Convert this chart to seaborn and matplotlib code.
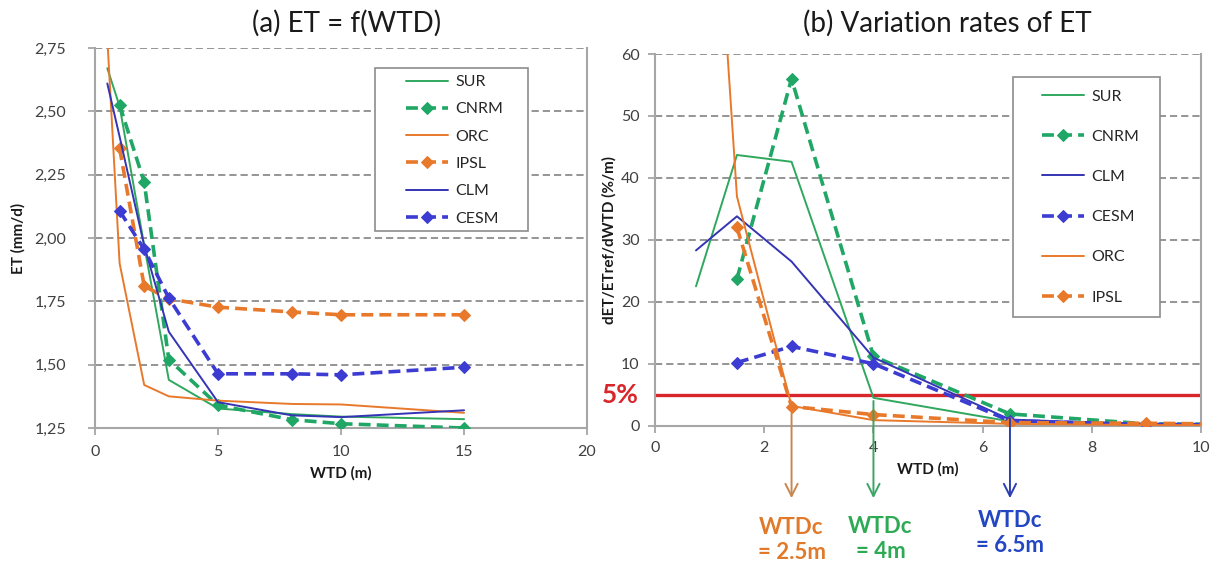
import numpy as np
import pandas as pd
import matplotlib
matplotlib.use("Agg")
import matplotlib.pyplot as plt
from matplotlib.patches import Rectangle
from matplotlib.ticker import FuncFormatter
import seaborn as sns

# ---- panel (a): ET as a function of water table depth ----
wtd_a = [0.5, 1, 2, 3, 5, 8, 10, 15]
et_sur = [2.67, 2.52, 1.97, 1.44, 1.327, 1.305, 1.295, 1.285]
et_cnrm = [np.nan, 2.525, 2.22, 1.52, 1.34, 1.283, 1.267, 1.25]
et_orc = [2.79, 1.90, 1.42, 1.375, 1.358, 1.345, 1.343, 1.31]
et_ipsl = [np.nan, 2.354, 1.81, 1.76, 1.727, 1.708, 1.697, 1.697]
et_clm = [2.61, 2.40, 1.97, 1.63, 1.352, 1.30, 1.293, 1.32]
et_cesm = [np.nan, 2.107, 1.955, 1.763, 1.464, 1.464, 1.46, 1.49]

# ---- panel (b): variation rates of ET ----
wtd_b = [0.75, 1.5, 2.5, 4, 6.5, 9, 12.5]
rate_sur = [22.5, 43.7, 42.6, 4.5, 0.7, 0.2, 0.1]
rate_cnrm = [np.nan, 23.7, 56.0, 11.2, 1.9, 0.3, 0.1]
rate_clm = [28.3, 33.8, 26.5, 11.0, 1.0, 0.2, 0.1]
rate_cesm = [np.nan, 10.2, 12.8, 10.0, 0.8, 0.2, 0.1]
rate_orc = [137.0, 37.0, 3.2, 0.9, 0.3, 0.1, 0.1]
rate_ipsl = [np.nan, 32.0, 3.1, 1.8, 0.5, 0.4, 0.1]

threshold = 5
wtdc_values = [2.5, 4, 6.5]
wtdc_labels = ["WTDc\n= 2.5m", "WTDc\n= 4m", "WTDc\n= 6.5m"]

GREEN = "#2FA85E"
GREEN_D = "#20A766"
ORANGE = "#E8792B"
BLUE = "#3434B4"
BLUE_D = "#3C3CD2"
RED = "#D8262B"
GRID = "#8C8C8C"
SPINE = "#A6A6A6"
TICK = "#404040"

sns.set_theme(style="white")
plt.rcParams["font.family"] = ["Lato", "DejaVu Sans"]

DASH = (0, (3.3, 1.7))
styles = {
    "SUR": dict(color=GREEN, lw=1.4, ls="-", marker=None),
    "CNRM": dict(color=GREEN_D, lw=2.6, ls=DASH, marker="D"),
    "ORC": dict(color=ORANGE, lw=1.4, ls="-", marker=None),
    "IPSL": dict(color=ORANGE, lw=2.6, ls=DASH, marker="D"),
    "CLM": dict(color=BLUE, lw=1.4, ls="-", marker=None),
    "CESM": dict(color=BLUE_D, lw=2.6, ls=DASH, marker="D"),
}

series_a = {"SUR": et_sur, "CNRM": et_cnrm, "ORC": et_orc,
            "IPSL": et_ipsl, "CLM": et_clm, "CESM": et_cesm}
series_b = {"SUR": rate_sur, "CNRM": rate_cnrm, "CLM": rate_clm,
            "CESM": rate_cesm, "ORC": rate_orc, "IPSL": rate_ipsl}

fig = plt.figure(figsize=(12.18, 5.62), dpi=100)
ax1 = fig.add_axes([0.078, 0.2384, 0.404, 0.6762])
ax2 = fig.add_axes([0.5378, 0.2425, 0.4483, 0.6614])


def draw_series(ax, xs, series):
    handles = []
    for name, vals in series.items():
        df = pd.DataFrame({"WTD": xs, "val": vals}).dropna()
        st = styles[name]
        kw = dict(color=st["color"], linewidth=st["lw"], linestyle=st["ls"],
                  label=name, errorbar=None, zorder=3)
        if st["marker"]:
            kw.update(marker=st["marker"], markersize=6.5,
                      markeredgecolor=st["color"], markerfacecolor=st["color"])
        before = len(ax.lines)
        sns.lineplot(data=df, x="WTD", y="val", ax=ax, **kw)
        handles.append(ax.lines[before])
    return handles


def style_axes(ax):
    ax.grid(False)
    ax.yaxis.grid(True, color=GRID, linestyle=(0, (4, 2.2)), linewidth=1.3)
    ax.set_axisbelow(True)
    for side in ["left", "bottom", "right"]:
        ax.spines[side].set_visible(True)
        ax.spines[side].set_color(SPINE)
        ax.spines[side].set_linewidth(1.5)
    ax.spines["top"].set_visible(False)
    ax.tick_params(axis="both", which="major", direction="out", length=5,
                   width=1.3, color=SPINE, labelcolor=TICK, labelsize=11.5,
                   left=True, bottom=True)


def framed_legend(ax, handles, box, anchor, spacing):
    ax.add_patch(Rectangle((box[0], box[1]), box[2], box[3],
                           transform=ax.transAxes, facecolor="white",
                           edgecolor="#8C8C8C", linewidth=1.2, zorder=4,
                           clip_on=False))
    leg = ax.legend(handles=handles, labels=[h.get_label() for h in handles],
                    loc="upper left", bbox_to_anchor=anchor, frameon=False,
                    fontsize=11.5, handlelength=2.65, handletextpad=0.45,
                    borderpad=0, borderaxespad=0, labelspacing=spacing)
    leg.set_zorder(5)
    for t in leg.get_texts():
        t.set_color("#262626")
    return leg


# ---- panel (a) ----
h1 = draw_series(ax1, wtd_a, series_a)
style_axes(ax1)
ax1.set_xlim(0, 20)
ax1.set_ylim(1.25, 2.75)
ax1.set_xticks([0, 5, 10, 15, 20])
ax1.set_yticks(np.arange(1.25, 2.76, 0.25))
ax1.yaxis.set_major_formatter(FuncFormatter(lambda v, p: f"{v:.2f}".replace(".", ",")))
ax1.tick_params(axis="y", pad=16)
ax1.tick_params(axis="x", pad=7)
ax1.set_xlabel("WTD (m)", fontsize=11, fontweight="bold", labelpad=5, color="#1a1a1a")
ax1.set_ylabel("ET (mm/d)", fontsize=11, fontweight="bold", labelpad=6, color="#1a1a1a")
framed_legend(ax1, h1, (0.569, 0.518, 0.311, 0.429), (0.632, 0.929), 0.82)

# ---- panel (b) ----
h2 = draw_series(ax2, wtd_b, series_b)
style_axes(ax2)
ax2.set_xlim(0, 10)
ax2.set_ylim(0, 60)
ax2.set_xticks([0, 2, 4, 6, 8, 10])
ax2.set_yticks(np.arange(0, 61, 10))
ax2.tick_params(axis="y", pad=6)
ax2.tick_params(axis="x", pad=6)
ax2.set_xlabel("WTD (m)", fontsize=11, fontweight="bold", labelpad=5, color="#1a1a1a")
ax2.set_ylabel("dET/ETref/dWTD (%/m)", fontsize=11, fontweight="bold", labelpad=3,
               color="#1a1a1a")
framed_legend(ax2, h2, (0.656, 0.293, 0.269, 0.646), (0.708, 0.905), 1.63)

# 5 % threshold line
ax2.axhline(threshold, color=RED, linewidth=2.4, zorder=2.5)
ax2.text(-0.03, threshold, f"{threshold}%", transform=ax2.get_yaxis_transform(),
         ha="right", va="center", color=RED, fontsize=19, fontweight="bold")

# critical depths
arrow_colors = ["#C9864F", "#3BA566", "#2B3FB0"]
text_colors = ["#E07A2A", "#2EAA55", "#2346C2"]
arrow_start = [2.0, 4.0, 1.2]
text_y = [-18.5, -18.3, -17.3]
text_dx = [0, 7, 0]
for x, lab, ac, tc, y0, ty, dx in zip(wtdc_values, wtdc_labels, arrow_colors,
                                      text_colors, arrow_start, text_y, text_dx):
    ax2.annotate("", xy=(x, -11.7), xytext=(x, y0),
                 arrowprops=dict(arrowstyle="->", color=ac, lw=1.4,
                                 mutation_scale=22, shrinkA=0, shrinkB=0),
                 annotation_clip=False)
    ax2.annotate(lab, xy=(x, ty), xytext=(dx, 0), textcoords="offset pixels",
                 ha="center", va="center", color=tc, fontsize=16,
                 fontweight="bold", linespacing=1.25, annotation_clip=False)

# panel titles
fig.text(347 / 1218, 1 - 23 / 562, "(a) ET = f(WTD)", ha="center", va="center",
         fontsize=20, color="#1a1a1a")
fig.text(947 / 1218, 1 - 23 / 562, "(b) Variation rates of ET", ha="center",
         va="center", fontsize=20, color="#1a1a1a")

fig.savefig("out.png", dpi=100)
